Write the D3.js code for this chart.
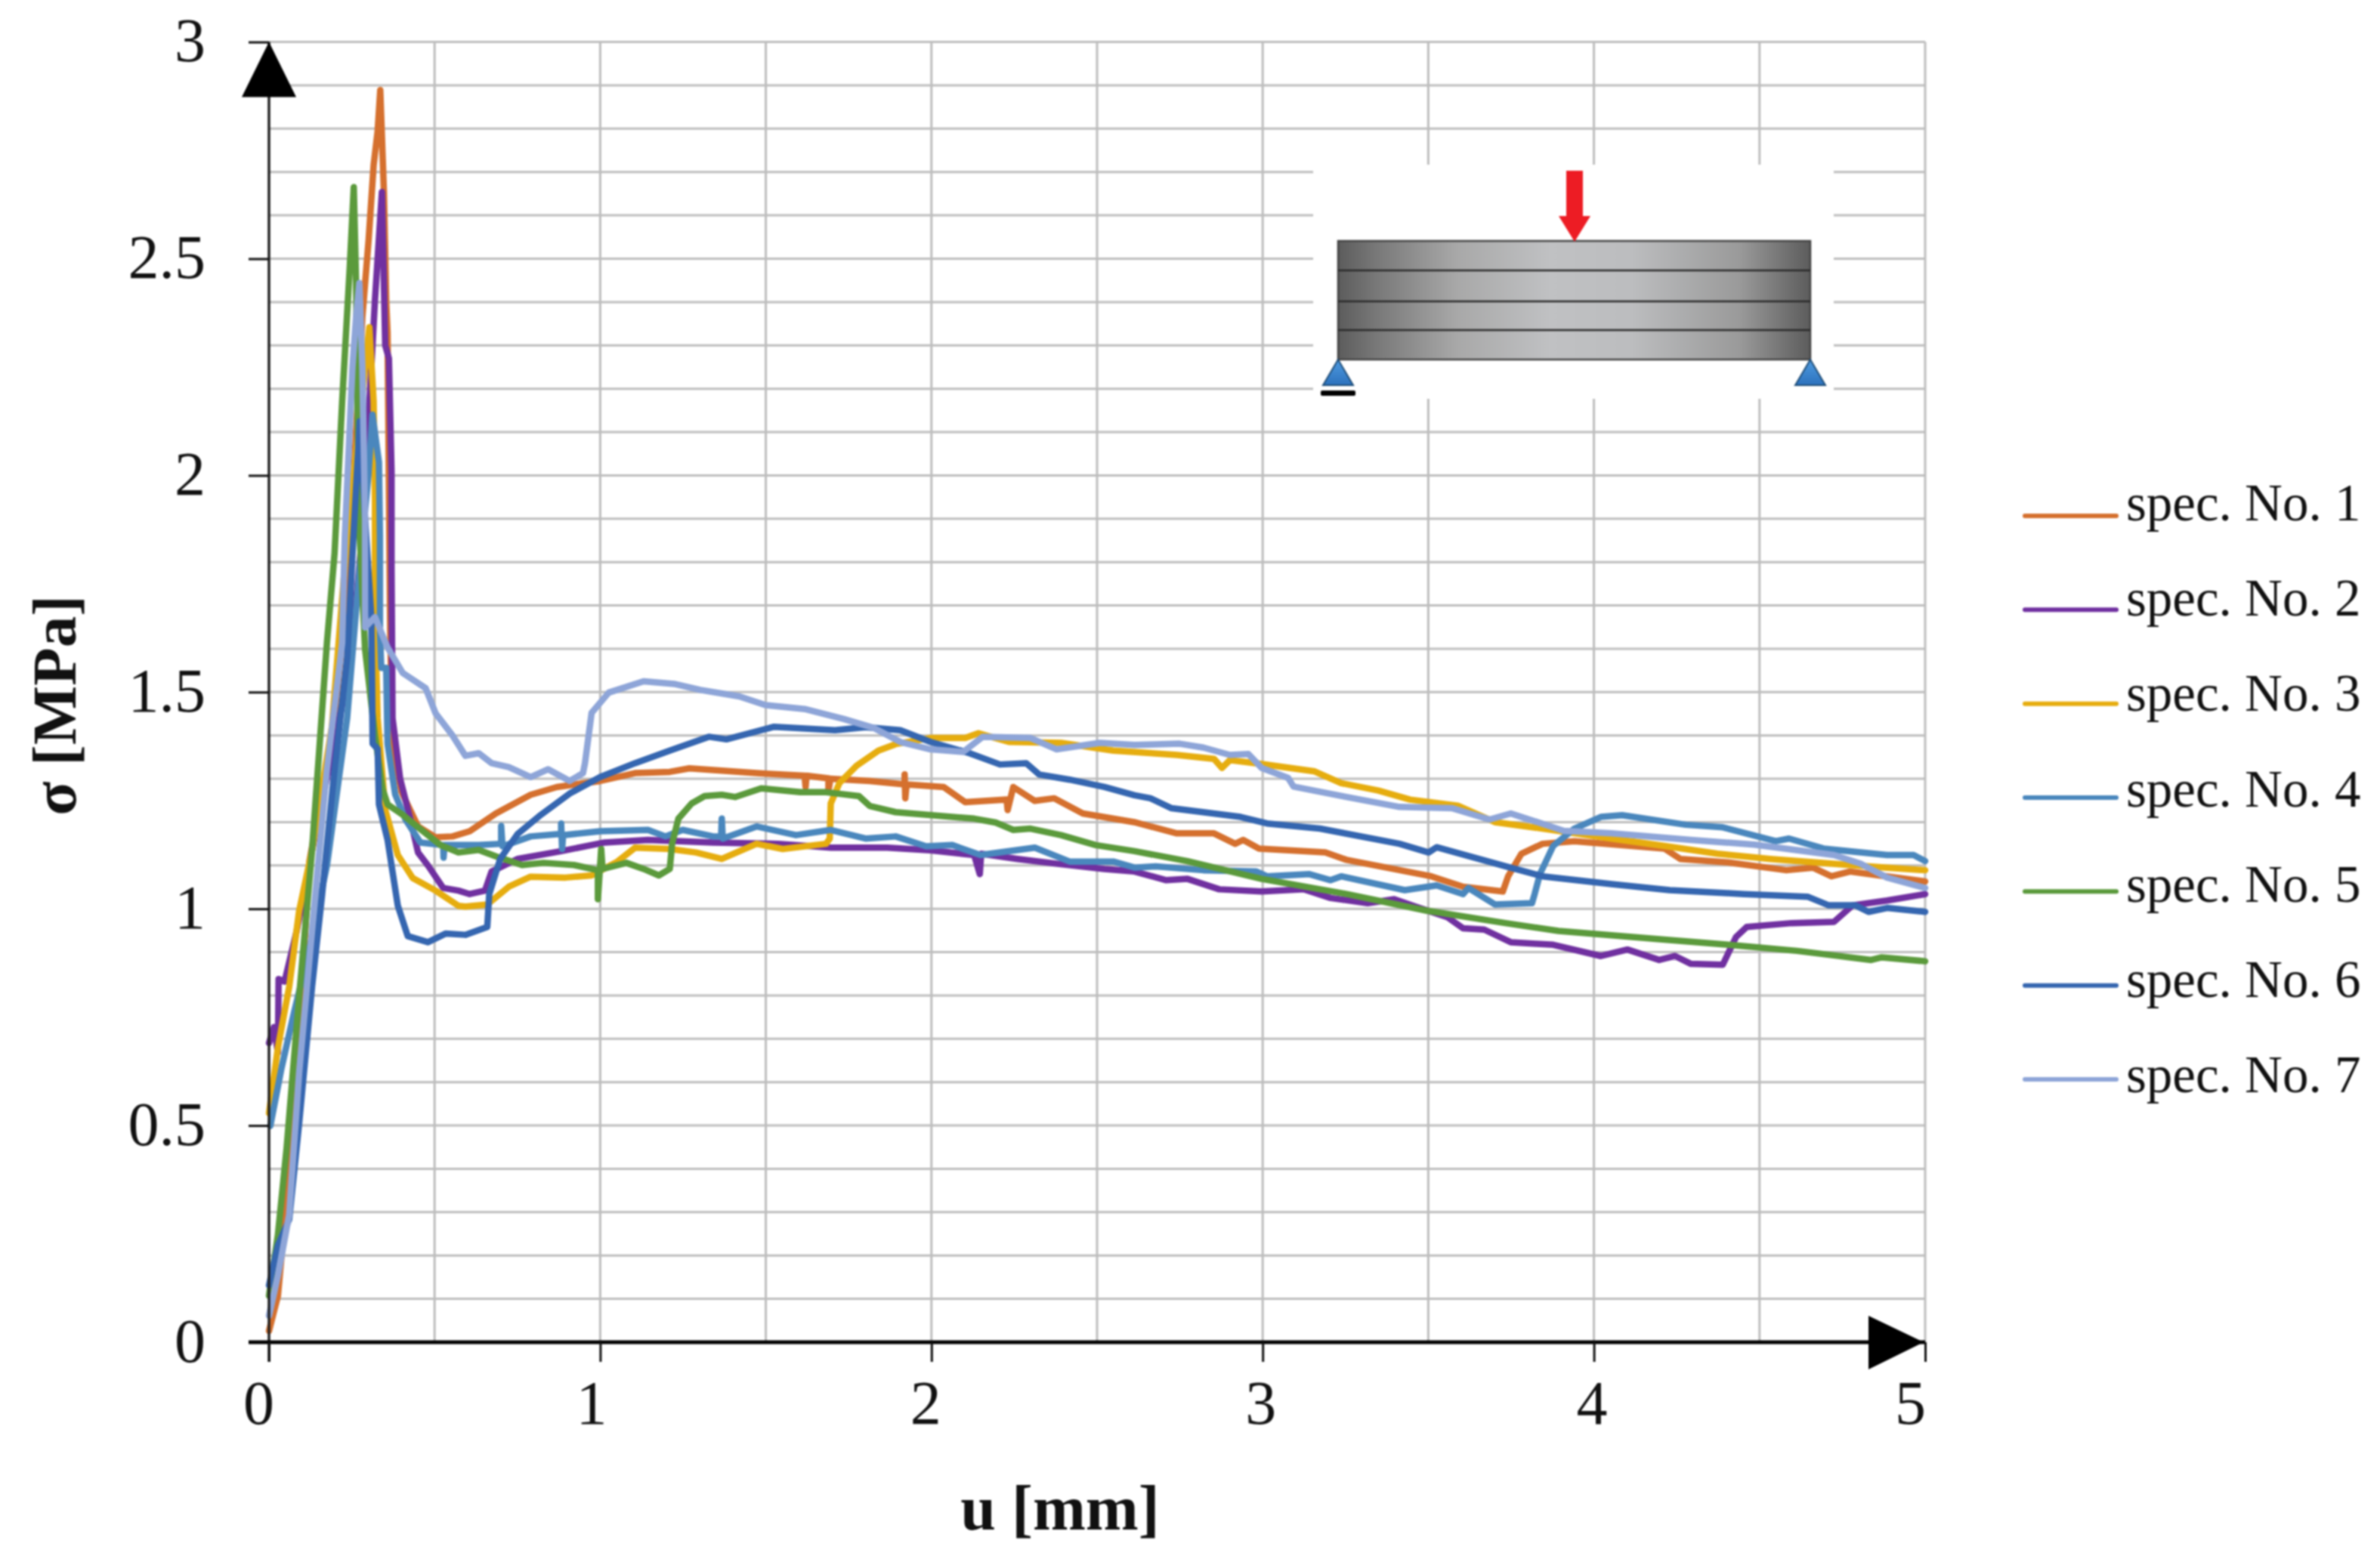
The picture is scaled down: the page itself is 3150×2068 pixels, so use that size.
<!DOCTYPE html>
<html>
<head>
<meta charset="utf-8">
<script src="https://cdn.jsdelivr.net/npm/d3@7"></script>
<style>
  body { margin: 0; background: #fff; }
  text { font-family: "Liberation Serif", serif; fill: #111; }
  svg { filter: blur(0.8px); }
</style>
</head>
<body>
<div id="chart"></div>
<script>
// values: [u in mm, sigma in MPa]
const spec1 = [[0,.026],[.027,.107],[.05,.3],[.09,.7],[.122,1.11],[.19,1.39],[.236,1.72],[.282,2.366],[.301,2.545],[.316,2.716],[.328,2.794],[.336,2.889],[.347,2.654],[.354,2.4],[.358,2.33],[.366,1.64],[.373,1.38],[.4,1.27],[.45,1.19],[.503,1.165],[.554,1.167],[.606,1.179],[.685,1.22],[.79,1.263],[.869,1.281],[1,1.295],[1.105,1.313],[1.21,1.316],[1.269,1.324],[1.472,1.313],[1.617,1.307],[1.62,1.281],[1.623,1.307],[1.689,1.301],[1.689,1.272],[1.695,1.3],[1.814,1.295],[1.919,1.287],[1.919,1.31],[1.921,1.255],[1.925,1.287],[2.037,1.281],[2.102,1.246],[2.227,1.252],[2.23,1.228],[2.247,1.281],[2.312,1.249],[2.371,1.255],[2.457,1.22],[2.612,1.2],[2.741,1.174],[2.853,1.174],[2.917,1.15],[2.941,1.159],[2.989,1.139],[3.189,1.13],[3.253,1.113],[3.509,1.075],[3.605,1.051],[3.725,1.04],[3.741,1.075],[3.781,1.127],[3.845,1.15],[3.941,1.156],[4.213,1.139],[4.261,1.115],[4.405,1.107],[4.581,1.089],[4.661,1.095],[4.717,1.075],[4.773,1.086],[4.853,1.078],[5,1.063]];
const spec2 = [[0,.69],[.015,.727],[.027,.668],[.029,.838],[.047,.832],[.084,.95],[.13,1.135],[.19,1.357],[.244,1.556],[.28,1.85],[.309,2.249],[.32,2.405],[.341,2.654],[.351,2.3],[.362,2.27],[.37,2.01],[.37,1.79],[.373,1.44],[.396,1.3],[.427,1.206],[.45,1.13],[.48,1.1],[.526,1.048],[.572,1.042],[.606,1.034],[.652,1.042],[.672,1.086],[.75,1.115],[.882,1.133],[1.013,1.153],[1.144,1.159],[1.34,1.153],[1.538,1.15],[1.696,1.141],[1.866,1.141],[1.997,1.135],[2.129,1.124],[2.146,1.08],[2.15,1.127],[2.26,1.115],[2.39,1.103],[2.522,1.092],[2.613,1.086],[2.709,1.066],[2.773,1.069],[2.869,1.045],[2.997,1.04],[3.125,1.045],[3.205,1.025],[3.317,1.013],[3.397,1.022],[3.461,1.005],[3.557,.981],[3.605,.955],[3.669,.952],[3.749,.923],[3.877,.917],[4.021,.891],[4.101,.906],[4.197,.882],[4.245,.891],[4.293,.873],[4.389,.871],[4.429,.935],[4.461,.958],[4.597,.967],[4.725,.97],[4.781,1.008],[4.885,1.019],[5,1.034]];
const spec3 = [[0,.528],[.027,.68],[.061,.82],[.091,.995],[.13,1.135],[.19,1.42],[.236,1.86],[.27,2.1],[.303,2.342],[.316,2.17],[.32,1.94],[.32,1.673],[.328,1.44],[.351,1.229],[.389,1.124],[.434,1.071],[.503,1.042],[.572,1.007],[.593,1.005],[.659,1.01],[.724,1.051],[.79,1.074],[.895,1.072],[.974,1.077],[1.052,1.109],[1.105,1.141],[1.21,1.138],[1.289,1.13],[1.367,1.115],[1.472,1.15],[1.551,1.138],[1.682,1.15],[1.693,1.162],[1.696,1.243],[1.722,1.29],[1.774,1.33],[1.84,1.365],[1.892,1.38],[1.997,1.394],[2.102,1.394],[2.142,1.405],[2.234,1.385],[2.391,1.383],[2.549,1.365],[2.741,1.355],[2.853,1.346],[2.877,1.325],[2.901,1.343],[2.997,1.334],[3.157,1.317],[3.237,1.29],[3.349,1.273],[3.445,1.252],[3.589,1.238],[3.701,1.2],[3.893,1.18],[4.053,1.162],[4.213,1.145],[4.373,1.127],[4.533,1.115],[4.773,1.101],[4.885,1.095],[5,1.089]];
const spec4 = [[.004,.499],[.038,.633],[.076,.762],[.12,.9],[.175,1.1],[.236,1.44],[.274,1.79],[.3,2],[.3125,2.14],[.332,2.03],[.335,1.86],[.335,1.638],[.339,1.556],[.354,1.556],[.358,1.381],[.381,1.264],[.412,1.206],[.457,1.153],[.526,1.147],[.527,1.118],[.53,1.147],[.633,1.147],[.701,1.15],[.701,1.191],[.705,1.144],[.79,1.167],[.882,1.173],[.882,1.197],[.885,1.138],[.888,1.17],[1,1.179],[1.144,1.182],[1.197,1.167],[1.249,1.182],[1.341,1.167],[1.365,1.167],[1.367,1.208],[1.37,1.162],[1.472,1.19],[1.591,1.17],[1.696,1.182],[1.801,1.162],[1.892,1.167],[1.984,1.144],[2.063,1.147],[2.148,1.124],[2.312,1.141],[2.417,1.109],[2.549,1.109],[2.613,1.095],[2.677,1.098],[2.821,1.089],[2.981,1.086],[3.013,1.075],[3.141,1.08],[3.205,1.066],[3.237,1.075],[3.429,1.043],[3.525,1.054],[3.605,1.034],[3.621,1.048],[3.701,1.01],[3.813,1.013],[3.821,1.034],[3.837,1.08],[3.877,1.145],[3.941,1.185],[4.021,1.212],[4.085,1.216],[4.277,1.194],[4.389,1.188],[4.549,1.156],[4.589,1.162],[4.693,1.139],[4.885,1.124],[4.965,1.124],[5,1.11]];
const spec5 = [[0,.107],[.027,.248],[.053,.446],[.091,.797],[.13,1.135],[.175,1.614],[.198,1.82],[.221,2.171],[.244,2.482],[.256,2.665],[.263,2.444],[.267,2.171],[.274,1.86],[.29,1.6],[.32,1.4],[.343,1.276],[.358,1.241],[.404,1.217],[.45,1.188],[.518,1.147],[.572,1.13],[.633,1.136],[.685,1.121],[.764,1.101],[.829,1.106],[.921,1.101],[.993,1.089],[.993,1.022],[1.003,1.138],[1.007,1.092],[1.079,1.106],[1.131,1.092],[1.177,1.077],[1.21,1.092],[1.217,1.15],[1.236,1.208],[1.276,1.243],[1.315,1.26],[1.367,1.263],[1.407,1.258],[1.486,1.278],[1.604,1.269],[1.682,1.269],[1.781,1.26],[1.814,1.237],[1.892,1.223],[2.129,1.208],[2.194,1.199],[2.247,1.182],[2.299,1.185],[2.391,1.17],[2.496,1.147],[2.613,1.133],[2.773,1.11],[2.997,1.069],[3.253,1.034],[3.493,.996],[3.733,.967],[3.893,.949],[4.213,.929],[4.405,.917],[4.613,.903],[4.837,.882],[4.869,.888],[5,.879]];
const spec6 = [[0,.131],[.027,.224],[.061,.283],[.091,.505],[.13,.82],[.16,1.03],[.198,1.322],[.236,1.579],[.255,1.86],[.274,2.125],[.29,1.9],[.309,1.673],[.313,1.381],[.328,1.369],[.332,1.241],[.358,1.159],[.389,1.007],[.419,.937],[.48,.923],[.534,.943],[.593,.94],[.659,.958],[.665,1.034],[.698,1.115],[.751,1.173],[.816,1.214],[.908,1.266],[1,1.304],[1.105,1.336],[1.21,1.365],[1.328,1.397],[1.381,1.391],[1.525,1.42],[1.709,1.412],[1.801,1.419],[1.906,1.412],[1.997,1.385],[2.115,1.359],[2.207,1.333],[2.286,1.336],[2.325,1.31],[2.417,1.298],[2.522,1.281],[2.613,1.262],[2.661,1.255],[2.725,1.232],[2.933,1.212],[3.013,1.197],[3.173,1.185],[3.413,1.15],[3.501,1.13],[3.525,1.142],[3.733,1.098],[3.845,1.075],[4.053,1.057],[4.229,1.043],[4.453,1.034],[4.645,1.028],[4.709,1.008],[4.789,1.008],[4.829,.993],[4.885,1.002],[5,.993]];
const spec7 = [[0,.061],[.027,.154],[.061,.294],[.091,.621],[.13,.949],[.175,1.322],[.221,1.614],[.229,1.86],[.252,2.249],[.263,2.366],[.273,2.444],[.282,2.249],[.29,1.9],[.29,1.649],[.32,1.673],[.358,1.603],[.404,1.544],[.473,1.509],[.503,1.451],[.554,1.4],[.593,1.353],[.633,1.359],[.672,1.336],[.724,1.327],[.79,1.304],[.843,1.322],[.908,1.295],[.948,1.313],[.954,1.336],[.974,1.452],[1.026,1.499],[1.131,1.525],[1.223,1.519],[1.302,1.505],[1.42,1.49],[1.499,1.47],[1.617,1.461],[1.735,1.438],[1.827,1.417],[1.906,1.385],[1.997,1.368],[2.096,1.362],[2.155,1.397],[2.299,1.394],[2.378,1.368],[2.509,1.383],[2.613,1.378],[2.749,1.381],[2.821,1.372],[2.901,1.355],[2.957,1.357],[2.997,1.325],[3.077,1.302],[3.093,1.282],[3.253,1.258],[3.413,1.235],[3.573,1.232],[3.685,1.206],[3.749,1.22],[3.909,1.18],[4.053,1.174],[4.293,1.159],[4.485,1.148],[4.725,1.124],[4.805,1.104],[4.885,1.072],[5,1.048]];

const seriesValues = [spec1, spec2, spec3, spec4, spec5, spec6, spec7];
const seriesNames = ["spec. No. 1", "spec. No. 2", "spec. No. 3", "spec. No. 4", "spec. No. 5", "spec. No. 6", "spec. No. 7"];
const seriesColors = ["#d5702e", "#7030a0", "#e6ad0f", "#4a87bd", "#5b9a3c", "#3566b0", "#8ea5d8"];

const xTicks = [0, 1, 2, 3, 4, 5];
const yTicks = [0, 0.5, 1, 1.5, 2, 2.5, 3];
const xGrid = [0.5, 1, 1.5, 2, 2.5, 3, 3.5, 4, 4.5, 5];
const yGrid = [0.1, 0.2, 0.3, 0.4, 0.5, 0.6, 0.7, 0.8, 0.9, 1, 1.1, 1.2, 1.3, 1.4, 1.5, 1.6, 1.7, 1.8, 1.9, 2, 2.1, 2.2, 2.3, 2.4, 2.5, 2.6, 2.7, 2.8, 2.9, 3];

const w = 3150;
const h = 2068;

const x = d3.scaleLinear().domain([0, 5]).range([356, 2548]);
const y = d3.scaleLinear().domain([0, 3]).range([1777, 55.6]);

const svg = d3.select("#chart").append("svg").attr("width", w).attr("height", h).style("display", "block");

const defs = svg.append("defs");
const beamGrad = defs.append("linearGradient").attr("id", "beamGrad");
beamGrad.append("stop").attr("offset", "0%").attr("stop-color", "#5c5c5c");
beamGrad.append("stop").attr("offset", "8%").attr("stop-color", "#787878");
beamGrad.append("stop").attr("offset", "25%").attr("stop-color", "#a8a8a8");
beamGrad.append("stop").attr("offset", "45%").attr("stop-color", "#c0c1c3");
beamGrad.append("stop").attr("offset", "62%").attr("stop-color", "#bcbdbf");
beamGrad.append("stop").attr("offset", "85%").attr("stop-color", "#9a9a9a");
beamGrad.append("stop").attr("offset", "100%").attr("stop-color", "#5c5c5c");
const supGrad = defs.append("linearGradient").attr("id", "supGrad").attr("x2", 0).attr("y2", 1);
supGrad.append("stop").attr("offset", "0%").attr("stop-color", "#4f9be0");
supGrad.append("stop").attr("offset", "100%").attr("stop-color", "#2d72bd");

//grid
const grid = svg.append("g").attr("stroke", "#bdbdbd").attr("stroke-width", 3);
grid.selectAll(".h").data(yGrid).join("line").attr("class", "h")
  .attr("x1", x(0)).attr("x2", x(5)).attr("y1", (d) => y(d)).attr("y2", (d) => y(d));
grid.selectAll(".v").data(xGrid).join("line").attr("class", "v")
  .attr("x1", (d) => x(d)).attr("x2", (d) => x(d)).attr("y1", y(3)).attr("y2", y(0));

//inset drawing of the beam, sits on a white patch that hides the grid
const inset = svg.append("g");
inset.append("rect").attr("x", 1738).attr("y", 218).attr("width", 689).attr("height", 310).attr("fill", "#fff");
inset.append("rect").attr("x", 1771).attr("y", 319).attr("width", 625).attr("height", 157)
  .attr("fill", "url(#beamGrad)").attr("stroke", "#444").attr("stroke-width", 2.5);
inset.selectAll(".layer").data([358, 399, 437]).join("line").attr("class", "layer")
  .attr("x1", 1771).attr("x2", 2396).attr("y1", (d) => d).attr("y2", (d) => d)
  .attr("stroke", "#2b2b2b").attr("stroke-width", 2.5);
inset.append("path").attr("d", "M2073 226H2095V286H2105L2084 320L2063 286H2073Z").attr("fill", "#ed1c24");
inset.selectAll(".support").data([1771, 2396]).join("path").attr("class", "support")
  .attr("d", (d) => `M${d} 476L${d + 20} 510H${d - 20}Z`)
  .attr("fill", "url(#supGrad)").attr("stroke", "#1f4e79").attr("stroke-width", 2);
inset.append("rect").attr("x", 1748).attr("y", 517).attr("width", 46).attr("height", 7).attr("rx", 2).attr("fill", "#000");

//series
const line = d3.line().x((d) => x(d[0])).y((d) => y(d[1]));
svg.append("g").selectAll("path").data(seriesValues).join("path")
  .attr("d", (d) => line(d))
  .attr("fill", "none")
  .attr("stroke", (d, i) => seriesColors[i])
  .attr("stroke-width", 8.5)
  .attr("stroke-linejoin", "round")
  .attr("stroke-linecap", "round");

//axes
const yAxis = svg.append("g").attr("transform", `translate(${x(0)},0)`)
  .call(d3.axisLeft(y).tickValues(yTicks).tickSize(27).tickFormat((d) => d));
yAxis.select(".domain").attr("d", `M0 ${y(3)}V${y(0) + 26}`).attr("stroke", "#222").attr("stroke-width", 3.5);
yAxis.selectAll(".tick line").attr("stroke", "#111").attr("stroke-width", 3);
yAxis.selectAll(".tick text").attr("x", -84).attr("dy", 0).attr("y", 25)
  .attr("text-anchor", "end").style("font-size", "82px").style("font-family", '"Liberation Serif", serif');

const xLabelShift = [-14, -12, -8, -3, -3, -20];
const xAxis = svg.append("g").attr("transform", `translate(0,${y(0)})`)
  .call(d3.axisBottom(x).tickValues(xTicks).tickSize(26).tickFormat((d) => d));
xAxis.select(".domain").attr("d", `M${x(0) - 27} 0H${x(5)}`).attr("stroke", "#000").attr("stroke-width", 5);
xAxis.selectAll(".tick line").attr("stroke", "#111").attr("stroke-width", 3);
xAxis.selectAll(".tick text").attr("y", 108).attr("dy", 0)
  .attr("dx", (d, i) => xLabelShift[i])
  .style("font-size", "82px").style("font-family", '"Liberation Serif", serif');

//axis arrows
svg.append("path").attr("d", `M${x(0)} ${y(3)}L${x(0) + 36} ${y(3) + 73}H${x(0) - 36}Z`).attr("fill", "#000");
svg.append("path").attr("d", `M${x(5) - 2} ${y(0)}L${x(5) - 75} ${y(0) - 35}V${y(0) + 36}Z`).attr("fill", "#000");

//axis titles
svg.append("text").attr("x", 1403).attr("y", 2025).attr("text-anchor", "middle")
  .attr("font-weight", "bold").attr("font-size", 84).text("u [mm]");
svg.append("text").attr("transform", "translate(100,934) rotate(-90)").attr("text-anchor", "middle")
  .attr("font-weight", "bold").attr("font-size", 83).text("σ [MPa]");

//legend
const legendLineY = d3.scaleLinear().domain([0, 6]).range([683, 1429]);
const legendTextY = d3.scaleLinear().domain([0, 6]).range([689, 1446]);
const legend = svg.append("g").selectAll("g").data(seriesNames).join("g");
legend.append("line").attr("x1", 2680).attr("x2", 2801)
  .attr("y1", (d, i) => legendLineY(i)).attr("y2", (d, i) => legendLineY(i))
  .attr("stroke", (d, i) => seriesColors[i])
  .attr("stroke-width", 6).attr("stroke-linecap", "round");
legend.append("text").attr("x", 2814).attr("y", (d, i) => legendTextY(i))
  .attr("font-size", 69).text((d) => d);
</script>
</body>
</html>
